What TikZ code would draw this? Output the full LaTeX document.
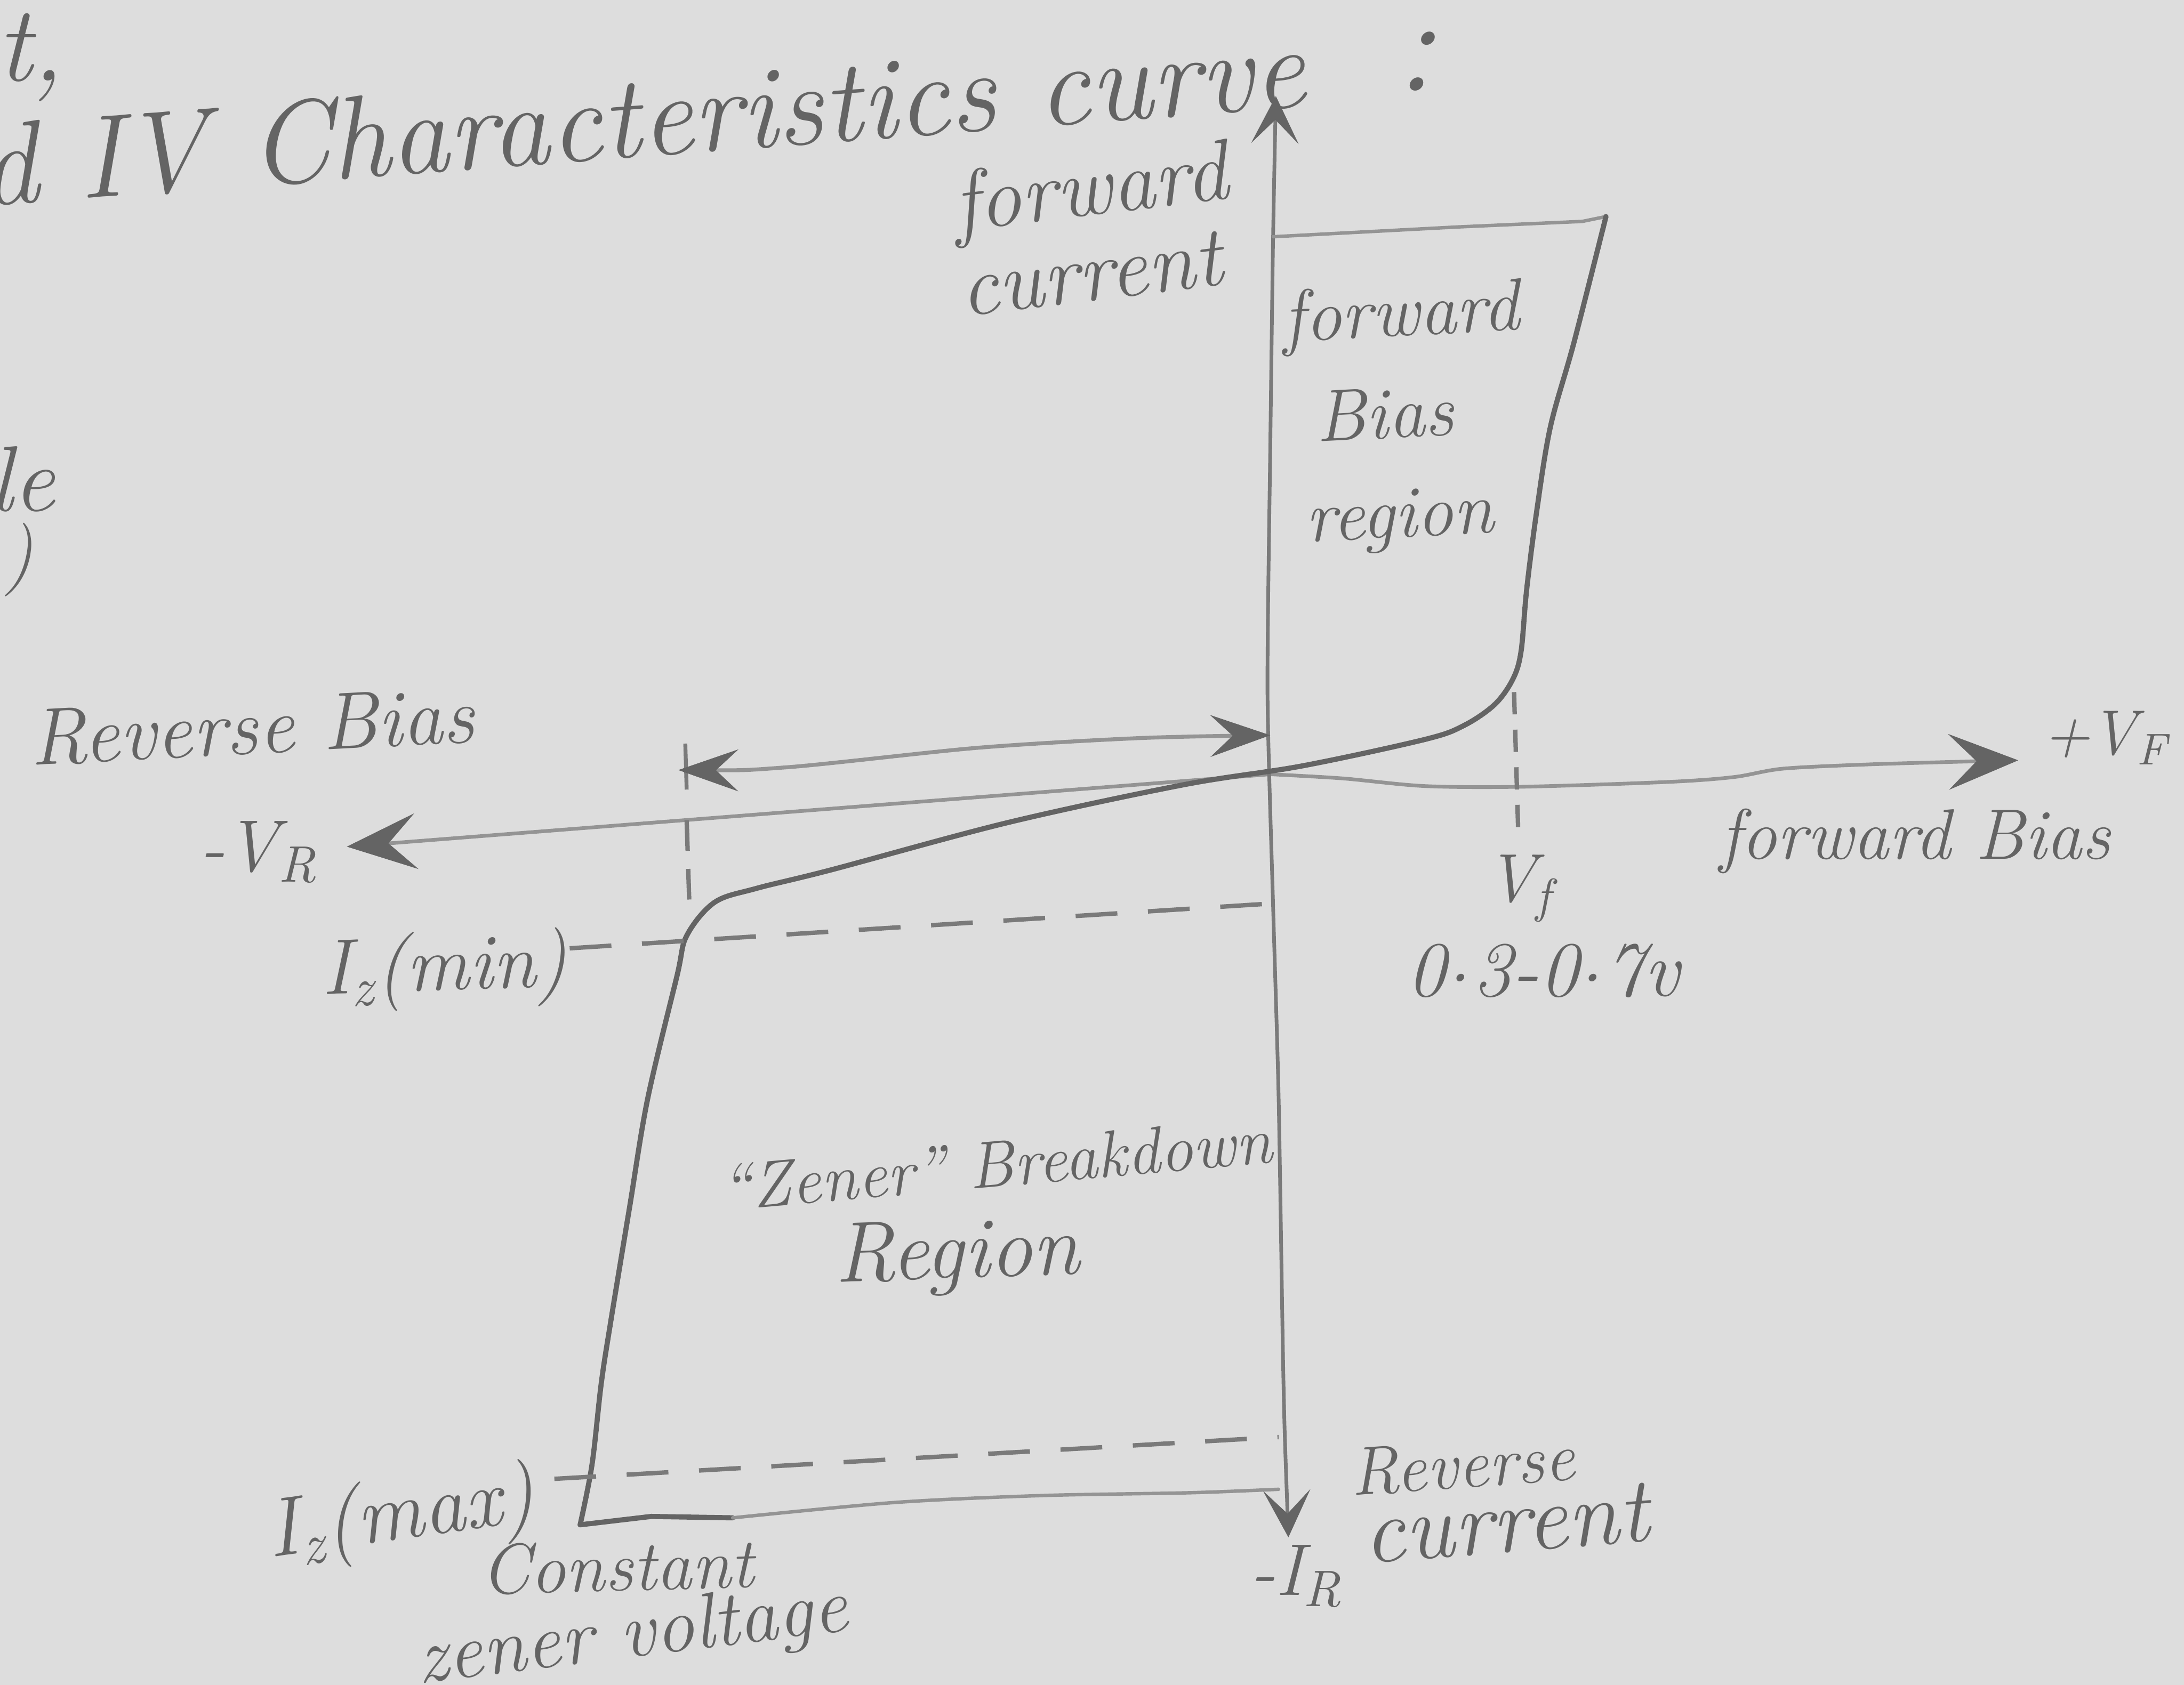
\documentclass[tikz,border=0pt]{standalone}
\usepackage{fontspec}
\usetikzlibrary{arrows.meta}
\definecolor{paper}{RGB}{221,221,221}
\definecolor{ink}{RGB}{100,100,100}
\definecolor{midink}{RGB}{122,122,122}
\definecolor{lightink}{RGB}{148,148,148}
\newcommand{\mydot}{\kern0.02em\raisebox{0.42ex}{.}\kern0.02em}
\begin{document}
\begin{tikzpicture}[x=0.1mm,y=-0.1mm,
  lbl/.style={text=ink, inner sep=0pt},
  sz/.style={font={\fontsize{#1}{#1}\selectfont\itshape}},
  pen/.style={draw=ink, line width=1.05pt, line cap=round, line join=round},
  axisline/.style={draw=lightink, line width=0.75pt, line cap=round, line join=round},
  vaxis/.style={draw=midink, line width=0.75pt, line cap=round, line join=round},
  faint/.style={draw=lightink, line width=0.7pt, line cap=round, line join=round},
  dsh/.style={draw=midink, line width=0.9pt, dash pattern=on 3mm off 2.2mm},
  dshv/.style={draw=midink, line width=0.9pt, dash pattern=on 1.6mm off 1.1mm},
  dshz/.style={draw=midink, line width=0.9pt, dash pattern=on 2.2mm off 1.3mm},
  bigtip/.tip={Stealth[length=5mm,width=4mm,inset=2mm,color=ink]},
  vtip/.tip={Stealth[length=3.4mm,width=3.4mm,inset=1.7mm,color=ink]},
  dtip/.tip={Stealth[length=4.3mm,width=3mm,inset=1.6mm,color=ink]}]

\useasboundingbox (0,0) rectangle (1568,1210);
\fill[paper] (0,0) rectangle (1568,1210);

% ---- key coordinates
\coordinate (O) at (912,556);
\coordinate (VRtip) at (249,608);
\coordinate (VFtip) at (1449,546);
\coordinate (Itop) at (916,69);
\coordinate (Ibot) at (925,1104);
\coordinate (Ctop) at (1153,155.5);
\coordinate (Cbot) at (416.5,1095);
\coordinate (Cfoot) at (526,1090);

% ---- axes
\draw[axisline, -bigtip] (O) -- (VRtip);
\draw[axisline, -bigtip] plot[smooth, tension=0.5] coordinates
  {(O) (964,559) (1023,564.5) (1092,565) (1198,561.5) (1245,558) (1280,552) (1340,549) (1407,547) (VFtip)};
\draw[vaxis, vtip-vtip] plot[smooth, tension=0.4] coordinates
  {(Ibot) (921.5,994) (918,789) (914,650) (910,497) (912,320) (914,171) (Itop)};

% ---- top line of forward region
\draw[faint] (914,170) -- (1046,163) -- (1136,159) -- (Ctop);

% ---- characteristic curve
\draw[pen] plot[smooth, tension=0.55] coordinates
  {(Ctop) (1130,246) (1113,307) (1103,369) (1096,424) (1092,468) (1086,488) (1073,506) (1051,521) (1023,531)
   (935,550) (850,563.5) (724,590.6) (597,624.6) (543,638) (513,648) (493,672) (486,701) (465,789)
   (452,867) (438,952) (431.6,994) (425,1052) (Cbot)};
\draw[pen] (Cbot) -- (467.6,1089) -- (Cfoot);
\draw[faint] plot[smooth, tension=0.5] coordinates
  {(Cfoot) (642,1079) (748,1074) (854,1072) (918,1069.5)};

% ---- dashed guides
\draw[dshv] (1087,497) -- (1090,597);
\draw[draw=midink, line width=0.8pt] (492,534) -- (493,567);
\draw[dshz] (493,589) -- (495,652);
\draw[dsh] (409,681) -- (926,648);
\draw[dsh] (398,1062) -- (918,1032);

% ---- double arrow
\draw[faint, line width=0.8pt, dtip-dtip] plot[smooth, tension=0.5] coordinates
  {(487,553) (565,551) (702,537) (819,530) (912,528)};

% ---- texts
\node[lbl, sz=24, rotate=4.3, anchor=base west] (title) at (-14,148) {d IV Characteristics curve};
\node[lbl, sz=28] (colon) at (1016,44) {:};
\node[lbl, sz=22, anchor=base west] (tfrag) at (-3,58) {t,};
\node[lbl, sz=19, anchor=base west] (lefrag) at (-8,367) {le};
\node[lbl, sz=15, anchor=base west] (parfrag) at (2,415) {)};

\node[lbl, sz=17.5, rotate=7] (fwd) at (783,139) {forward};
\node[lbl, sz=17.5, rotate=7] (cur) at (783,197) {current};

\node[lbl, sz=15, rotate=3] (fb1) at (1006,228) {forward};
\node[lbl, sz=15, rotate=3] (fb2) at (994,297) {Bias};
\node[lbl, sz=15, rotate=3] (fb3) at (1005,374) {region};

\node[lbl, sz=16.5, rotate=3] (rb) at (181,522) {Reverse Bias};
\node[lbl, sz=15] (vr) at (186,612) {-V\textsubscript{R}};
\node[lbl, sz=13] (vf) at (1512,530) {+V\textsubscript{F}};
\node[lbl, sz=14.6, anchor=base] (fbias) at (1375,617) {forward Bias};
\node[lbl, sz=14] (vflbl) at (1091,638) {V\textsubscript{f}};
\node[lbl, sz=16] (volt) at (1108,697) {0\mydot3-0\mydot7v};

\node[lbl, sz=16, rotate=2] (izmin) at (319,697) {I\textsubscript{z}(min)};
\node[lbl, sz=17, rotate=8] (izmax) at (288,1090) {I\textsubscript{z}(max)};
\node[lbl, sz=14.5, rotate=1.5] (const) at (443,1125) {Constant};
\node[lbl, sz=16, rotate=7] (zv) at (454,1176) {zener voltage};

\node[lbl, sz=15] (ir) at (931,1132) {-I\textsubscript{R}};
\node[lbl, sz=14, rotate=4] (rev) at (1050,1052) {Reverse};
\node[lbl, sz=19, rotate=4.5] (rcur) at (1081,1094) {current};

\node[lbl, sz=13.5, rotate=5] (zb) at (715,836) {``Zener'' Breakdown};
\node[lbl, sz=17.5, rotate=2] (zr) at (687,903) {Region};
\end{tikzpicture}
\end{document}
